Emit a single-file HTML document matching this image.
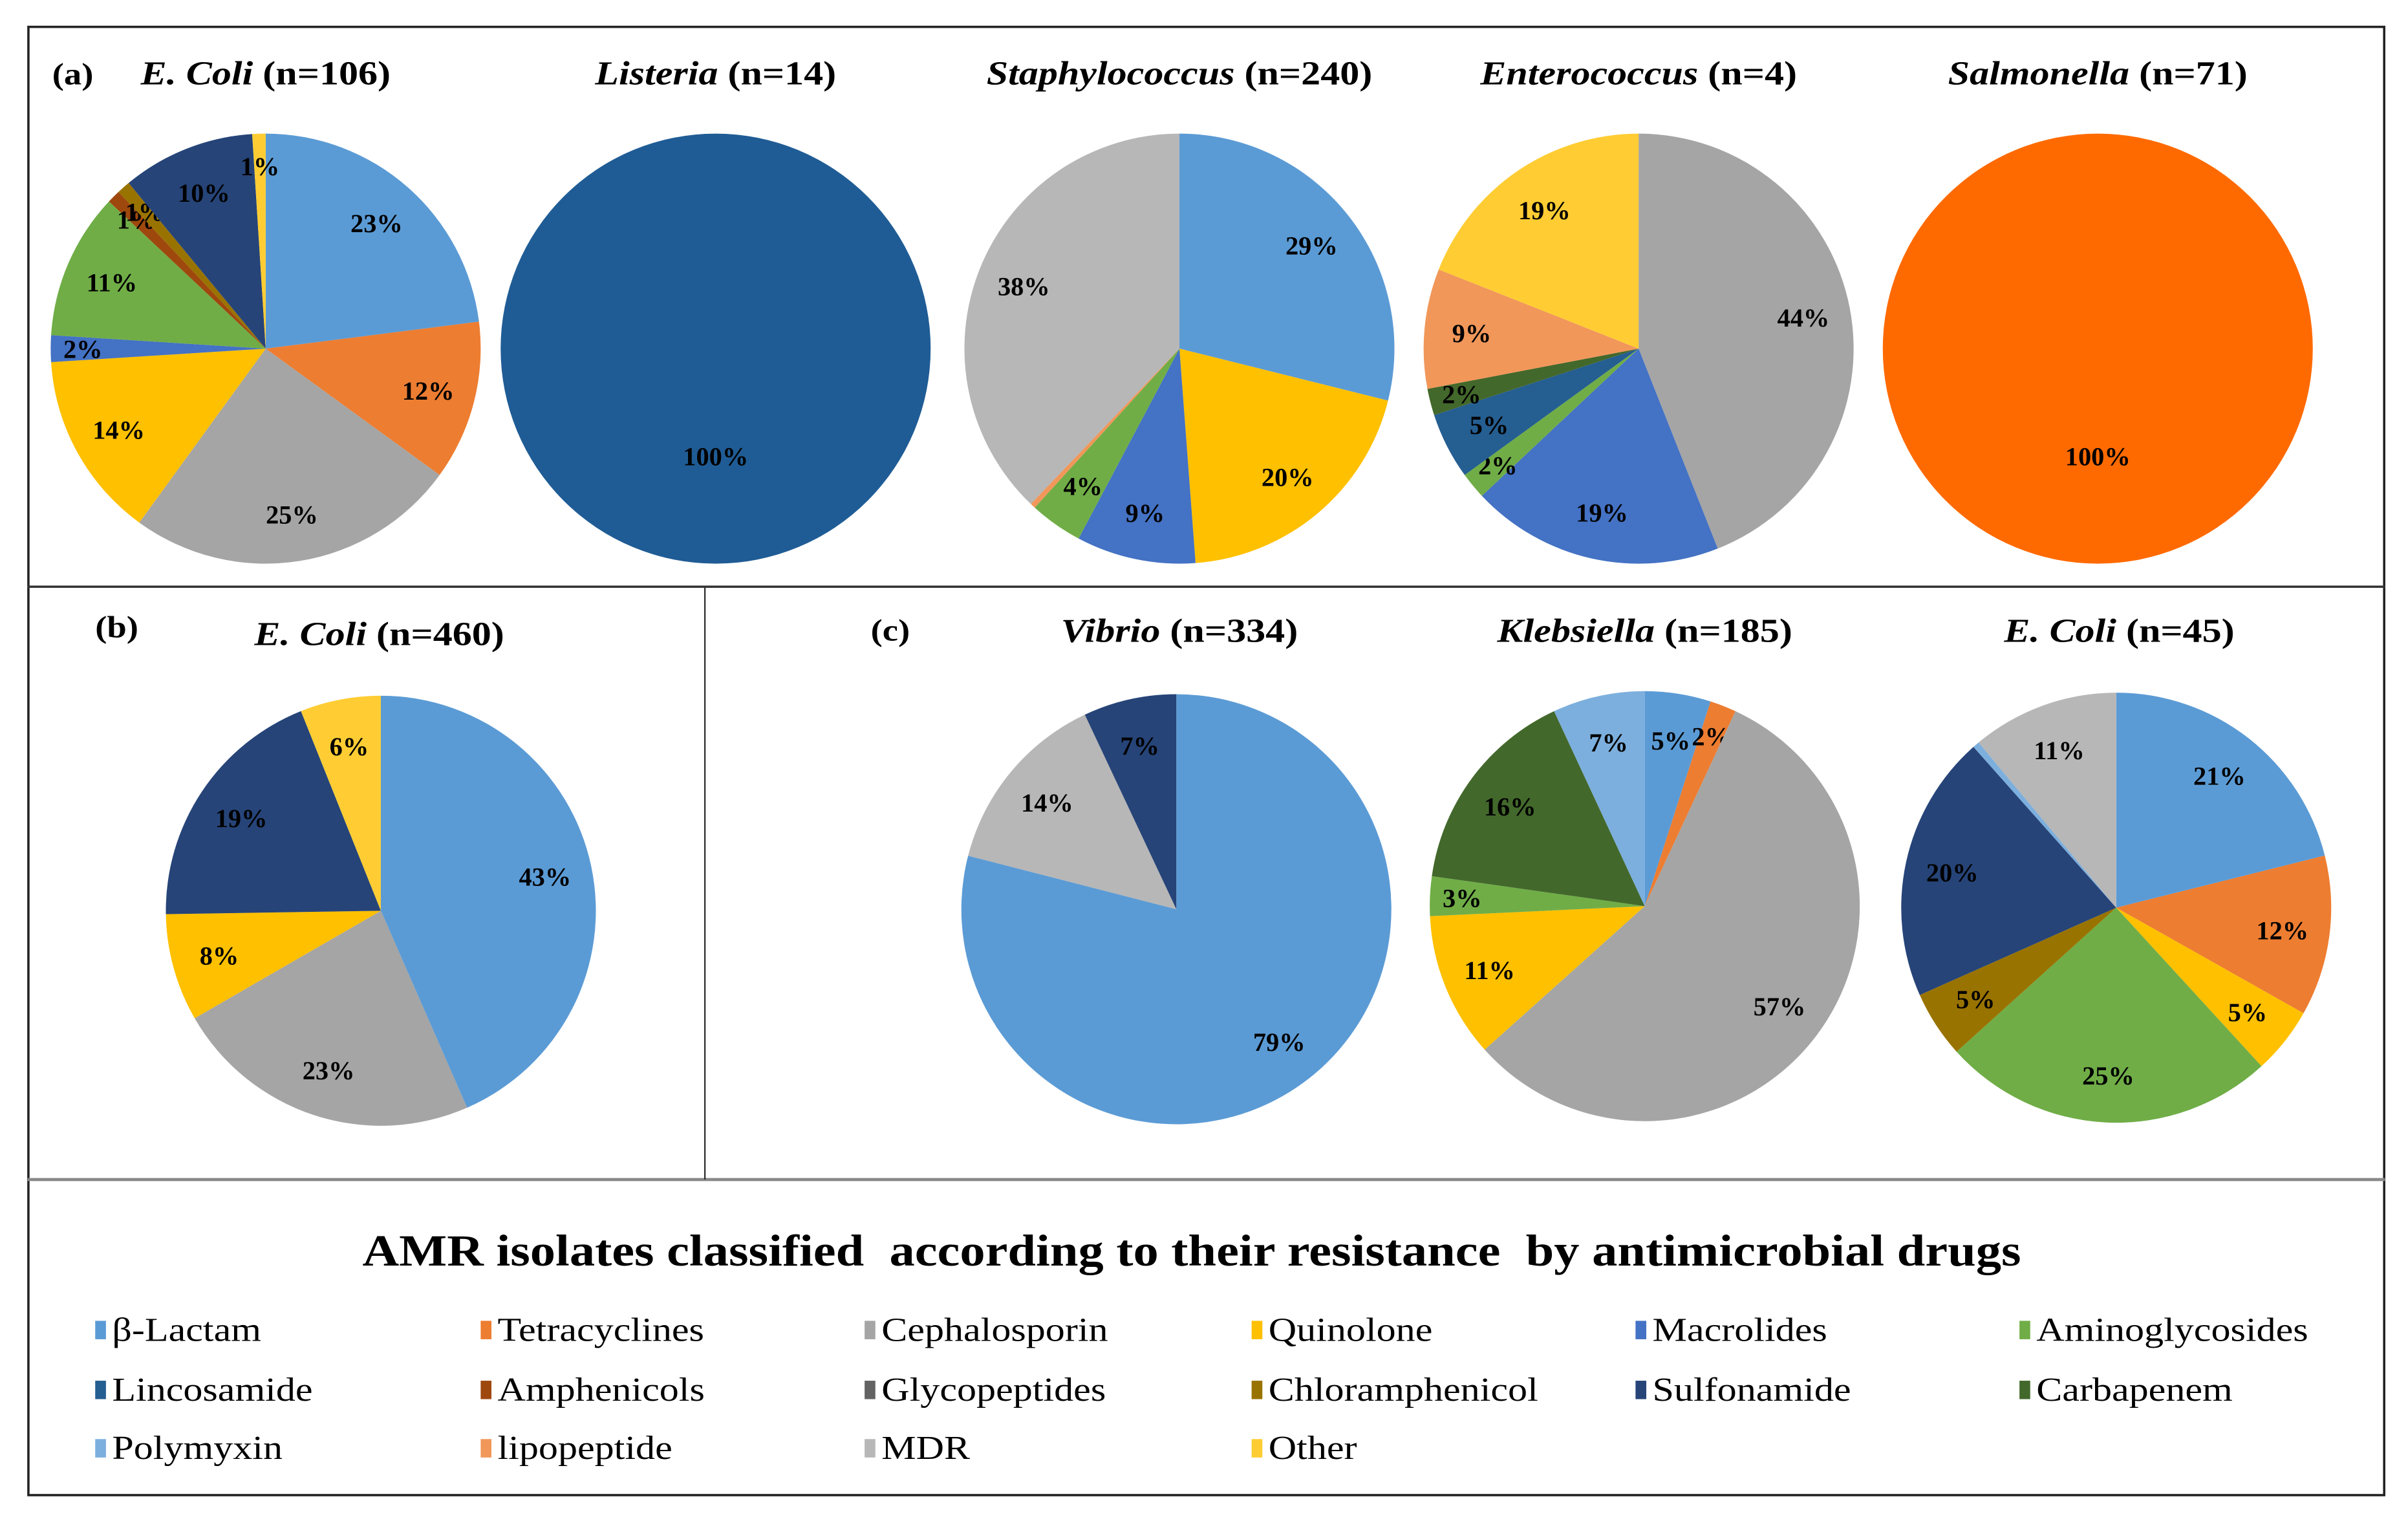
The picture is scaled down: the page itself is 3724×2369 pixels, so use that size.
<!DOCTYPE html>
<html><head><meta charset="utf-8"><style>
html,body{margin:0;padding:0;background:#fff;}
svg, svg text{font-family:"Liberation Serif","Times New Roman",Times,"DejaVu Serif","Noto Serif CJK SC",serif;}
</style></head><body>
<svg id="chart" width="3724" height="2364" viewBox="0 0 1568 995.4" preserveAspectRatio="none" xmlns="http://www.w3.org/2000/svg">
<rect x="0" y="0" width="1568" height="995.4" fill="#fff"/>
<rect x="18.5" y="17.5" width="1534" height="956" fill="none" stroke="#222" stroke-width="1.5"/>
<line x1="18" y1="382" x2="1553" y2="382" stroke="#333" stroke-width="1.5"/>
<line x1="18" y1="768" x2="1553" y2="768" stroke="#888" stroke-width="2"/>
<line x1="459" y1="382" x2="459" y2="768" stroke="#333" stroke-width="1"/>
<g id="pies"></g>
<text class="wide" x="34" y="55" font-size="20" font-weight="bold">(a)</text>
<text class="wide" x="62" y="415" font-size="20" font-weight="bold">(b)</text>
<text class="wide" x="567" y="417" font-size="20" font-weight="bold">(c)</text>
<text x="776" y="824" font-size="29" font-weight="bold" text-anchor="middle" textLength="1080" lengthAdjust="spacingAndGlyphs" xml:space="preserve">AMR isolates classified  according to their resistance  by antimicrobial drugs</text>
<g id="legend"></g>
</svg>
<script>
const categories = ["β-Lactam","Tetracyclines","Cephalosporin","Quinolone","Macrolides","Aminoglycosides","Lincosamide","Amphenicols","Glycopeptides","Chloramphenicol","Sulfonamide","Carbapenem","Polymyxin","lipopeptide","MDR","Other"];
const catColors = ["#5b9bd5","#ed7d31","#a5a5a5","#ffc000","#4472c4","#70ad47","#255e91","#9e480e","#636363","#997300","#264478","#43682b","#7cafdd","#f1975a","#b7b7b7","#ffcd33"];
const pieTitles = [["E. Coli"," (n=106)"],["Listeria"," (n=14)"],["Staphylococcus"," (n=240)"],["Enterococcus"," (n=4)"],["Salmonella"," (n=71)"],["E. Coli"," (n=460)"],["Vibrio"," (n=334)"],["Klebsiella"," (n=185)"],["E. Coli"," (n=45)"]];
const ecoliA_cats = ["β-Lactam","Tetracyclines","Cephalosporin","Quinolone","Macrolides","Aminoglycosides","Amphenicols","Chloramphenicol","Sulfonamide","Other"];
const ecoliA_vals = [23,12,25,14,2,11,1,1,10,1];
const listeria_cats = ["Lincosamide"];
const listeria_vals = [100];
const staph_cats = ["β-Lactam","Quinolone","Macrolides","Aminoglycosides","lipopeptide","MDR"];
const staph_vals = [29,20,9,4,0.4,38];
const entero_cats = ["Cephalosporin","Macrolides","Aminoglycosides","Lincosamide","Carbapenem","lipopeptide","Other"];
const entero_vals = [44,19,2,5,2,9,19];
const salmo_cats = ["Tetracyclines"];
const salmo_vals = [100];
const ecoliB_cats = ["β-Lactam","Cephalosporin","Quinolone","Sulfonamide","Other"];
const ecoliB_vals = [43,23,8,19,6];
const vibrio_cats = ["β-Lactam","MDR","Sulfonamide"];
const vibrio_vals = [79,14,7];
const kleb_cats = ["β-Lactam","Tetracyclines","Cephalosporin","Quinolone","Aminoglycosides","Carbapenem","Polymyxin"];
const kleb_vals = [5,2,57,11,3,16,7];
const ecoliC_cats = ["β-Lactam","Tetracyclines","Quinolone","Aminoglycosides","Chloramphenicol","Sulfonamide","Polymyxin","MDR"];
const ecoliC_vals = [21,12,5,25,5,20,0.5,11];

const NS="http://www.w3.org/2000/svg";
const pieGroup=document.getElementById('pies');
const layout=[
 {cx:173,cy:227,r:140,tx:173,ty:55},
 {cx:466,cy:227,r:140,tx:466,ty:55},
 {cx:768,cy:227,r:140,tx:768,ty:55},
 {cx:1067,cy:227,r:140,tx:1067,ty:55},
 {cx:1366,cy:227,r:140,tx:1366,ty:55},
 {cx:248,cy:593,r:140,tx:247,ty:420},
 {cx:766,cy:592,r:140,tx:768,ty:418},
 {cx:1071,cy:590,r:140,tx:1071,ty:418},
 {cx:1378,cy:591,r:140,tx:1380,ty:418}
];
const pieData=[[ecoliA_cats,ecoliA_vals],[listeria_cats,listeria_vals],[staph_cats,staph_vals],[entero_cats,entero_vals],[salmo_cats,salmo_vals],[ecoliB_cats,ecoliB_vals],[vibrio_cats,vibrio_vals],[kleb_cats,kleb_vals],[ecoliC_cats,ecoliC_vals]];
function colorOf(c,pi){ if(pi===4) return "#ff6a00"; if(pi===1) return "#1f5c95"; return catColors[categories.indexOf(c)]; }
function pt(cx,cy,r,a){return [cx+r*Math.sin(a),cy-r*Math.cos(a)];}
pieData.forEach((pd,pi)=>{
  const [cats,vals]=pd; const L=layout[pi];
  const total=vals.reduce((a,b)=>a+b,0);
  let a0=0;
  const g=document.createElementNS(NS,'g');
  
  
  pieGroup.appendChild(g);
  vals.forEach((v,i)=>{
    const frac=v/total, a1=a0+frac*2*Math.PI;
    let el;
    if(frac>=0.9999){
      el=document.createElementNS(NS,'circle');
      el.setAttribute('cx',L.cx);el.setAttribute('cy',L.cy);el.setAttribute('r',L.r);
    } else {
      const p0=pt(L.cx,L.cy,L.r,a0),p1=pt(L.cx,L.cy,L.r,a1);
      el=document.createElementNS(NS,'path');
      el.setAttribute('d',`M${L.cx},${L.cy}L${p0[0]},${p0[1]}A${L.r},${L.r} 0 ${frac>0.5?1:0} 1 ${p1[0]},${p1[1]}Z`);
    }
    el.setAttribute('fill',colorOf(cats[i],pi));
    el.setAttribute('stroke','none');
    
    
    g.appendChild(el);
    if(v>=1){
      const mid=(a0+a1)/2;
      const rr=frac>=0.9999?0.5:(frac<0.03?0.85:0.78);
      const p=frac>=0.9999?[L.cx,L.cy+70]:pt(L.cx,L.cy,L.r*rr,mid);
      const t=document.createElementNS(NS,'text');
      t.setAttribute('x',p[0]);t.setAttribute('y',p[1]+6);
      t.setAttribute('text-anchor','middle');t.setAttribute('font-size','17');t.setAttribute('font-weight','bold');
      t.textContent=Math.round(v)+'%';
      
      
      g.appendChild(t);
    }
    a0=a1;
  });
  const tt=document.createElementNS(NS,'text');
  tt.setAttribute('x',L.tx);tt.setAttribute('y',L.ty);tt.setAttribute('text-anchor','middle');
  tt.setAttribute('font-size','22');tt.setAttribute('font-weight','bold');
  tt.setAttribute('class','wide');
  
  
  const s1=document.createElementNS(NS,'tspan');s1.setAttribute('font-style','italic');s1.textContent=pieTitles[pi][0];
  const s2=document.createElementNS(NS,'tspan');s2.textContent=pieTitles[pi][1];
  tt.appendChild(s1);tt.appendChild(s2);g.appendChild(tt);
});
const lg=document.getElementById('legend');
const colX=[62,313,563,815,1065,1315], rowY=[866,905,943];
categories.forEach((c,i)=>{
  const x=colX[i%6], y=rowY[Math.floor(i/6)];
  const g=document.createElementNS(NS,'g');
  
  
  const r=document.createElementNS(NS,'rect');
  r.setAttribute('x',x);r.setAttribute('y',y-6);r.setAttribute('width',7);r.setAttribute('height',12);
  r.setAttribute('fill',catColors[i]);
  
  
  const t=document.createElementNS(NS,'text');
  t.setAttribute('x',x+11);t.setAttribute('y',y+7);t.setAttribute('font-size','22');
  t.setAttribute('class','wide');
  t.textContent=c;
  
  
  g.appendChild(r);g.appendChild(t);lg.appendChild(g);
});
document.querySelectorAll('text.wide').forEach(t=>{
  const w=t.getComputedTextLength();
  if(w>0){t.setAttribute('textLength',(w*1.15).toFixed(1));t.setAttribute('lengthAdjust','spacingAndGlyphs');}
});
</script>
</body></html>
